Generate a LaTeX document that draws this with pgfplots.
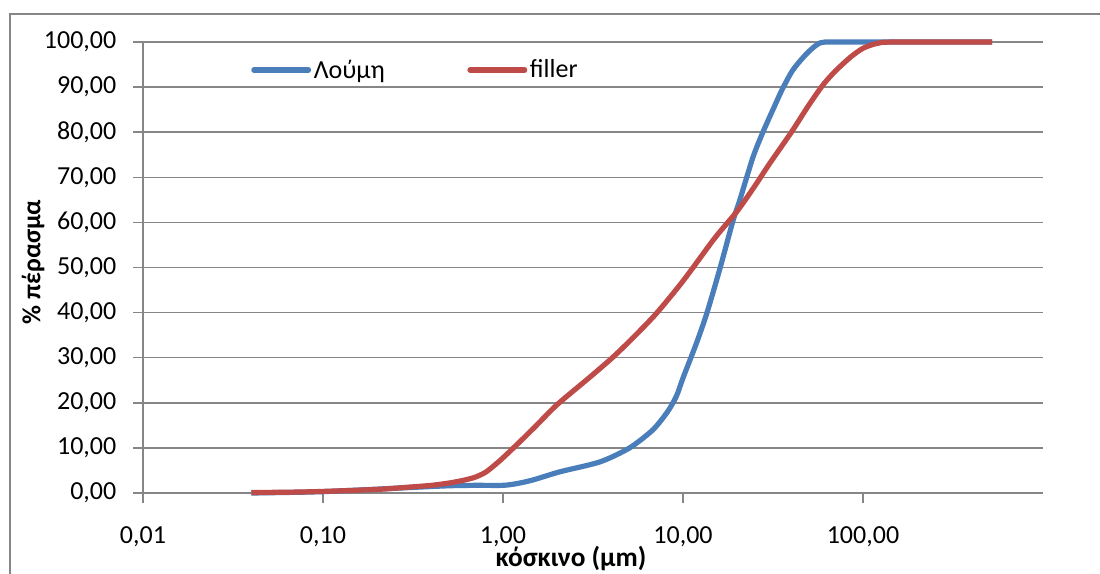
\documentclass[border=0pt]{standalone}
\usepackage{pgfplots}
\pgfplotsset{compat=1.18}
\usepackage{fontspec}
\setmainfont{Carlito}
\definecolor{sblue}{HTML}{4A7EBB}
\definecolor{sred}{HTML}{BE4B48}
\definecolor{ggray}{HTML}{868686}
\begin{document}
\begin{tikzpicture}[x=1pt,y=1pt]
\useasboundingbox (-107.25,-60.75) rectangle (717.75,369.75);
\draw[ggray, line width=1.1pt] (-99.75,-70) -- (-99.75,359.25) -- (730,359.25);
\begin{axis}[
  at={(0,0)}, anchor=south west,
  scale only axis, width=675pt, height=338.25pt,
  xmode=log, xmin=0.01, xmax=1000,
  ymin=0, ymax=100,
  xtick={0.01,0.1,1,10,100},
  xticklabels={{0,01},{0,10},{1,00},{10,00},{100,00}},
  ytick={0,10,20,30,40,50,60,70,80,90,100},
  yticklabels={{0,00},{10,00},{20,00},{30,00},{40,00},{50,00},{60,00},{70,00},{80,00},{90,00},{100,00}},
  xminorticks=false, yminorticks=false,
  /pgf/number format/assume math mode=true,
  axis x line*=bottom, axis y line*=left,
  axis line style={-, draw=ggray, line width=1.1pt},
  ymajorgrids, grid style={draw=ggray, line width=1.1pt},
  xmajorgrids=false,
  tick align=outside, major tick length=7.5pt,
  tick style={draw=ggray, line width=1.1pt},
  every tick label/.append style={font=\fontsize{19.5}{23}\selectfont, text=black},
  xticklabel style={inner sep=0pt, yshift=-17.5pt},
  yticklabel style={xshift=-9pt},
  xlabel={\textbf{κόσκινο (μm)}},
  ylabel={\textbf{\% πέρασμα}},
  xlabel style={at={(axis description cs:0.4756,-0.1455)}, anchor=center, inner sep=0pt, font=\fontsize{20.5}{24}\selectfont},
  ylabel style={at={(axis description cs:-0.1222,0.512)}, anchor=center, font=\fontsize{19.5}{23}\selectfont},
  legend style={at={(axis description cs:0.12,0.938)}, anchor=west, draw=none, fill=none,
    font=\fontsize{19.5}{23}\selectfont, inner xsep=0pt, inner ysep=0pt},
  legend columns=2,
  legend cell align=left,
  /tikz/every even column/.append style={column sep=60pt},
  legend image code/.code={\draw[#1, line cap=round] (0pt,0pt) -- (41pt,0pt);},
  clip=false,
]
\addplot[sblue, line width=3.9pt, smooth, tension=0.45] coordinates {
(0.04,0.0)(0.1,0.3)(0.3,1.2)(0.5,1.6)(0.7,1.7)(1.0,1.7)(1.2,2.1)(1.47,2.9)
(2.07,4.7)(3.46,6.9)(5.05,10)(6.8,14)(8.2,18)(9.2,21.5)(10,25.5)(11.9,33.3)(13.6,40)
(16.1,50)(19.0,60.5)(20.7,65)(24.5,74.5)(27.8,80)(31.6,85)(35.5,89.4)(40.8,93.8)
(48.9,97.5)(57.7,99.8)(70,100)(150,100)(521,100)
};
\addlegendentry{Λούμη}
\addplot[sred, line width=3.9pt, smooth, tension=0.45] coordinates {
(0.04,0.1)(0.07,0.2)(0.1,0.35)(0.2,0.8)(0.3,1.3)(0.4,1.7)(0.5,2.2)(0.6,2.8)
(0.7,3.5)(0.8,4.6)(0.9,6.2)(1.0,7.8)(1.2,10.8)(1.5,14.6)(2.0,19.6)(3.0,25.5)
(4.0,29.8)(5.0,33.5)(7.0,39.5)(10.0,47.0)(15.0,56.5)(20.0,62.5)(25.0,68.0)
(30.0,72.8)(40.0,80.0)(50.0,86.0)(60.0,90.5)(70.0,93.5)(85.0,96.6)(100,98.6)
(120,99.7)(150,100)(521,100)
};
\addlegendentry{filler}
\end{axis}
\end{tikzpicture}
\end{document}
